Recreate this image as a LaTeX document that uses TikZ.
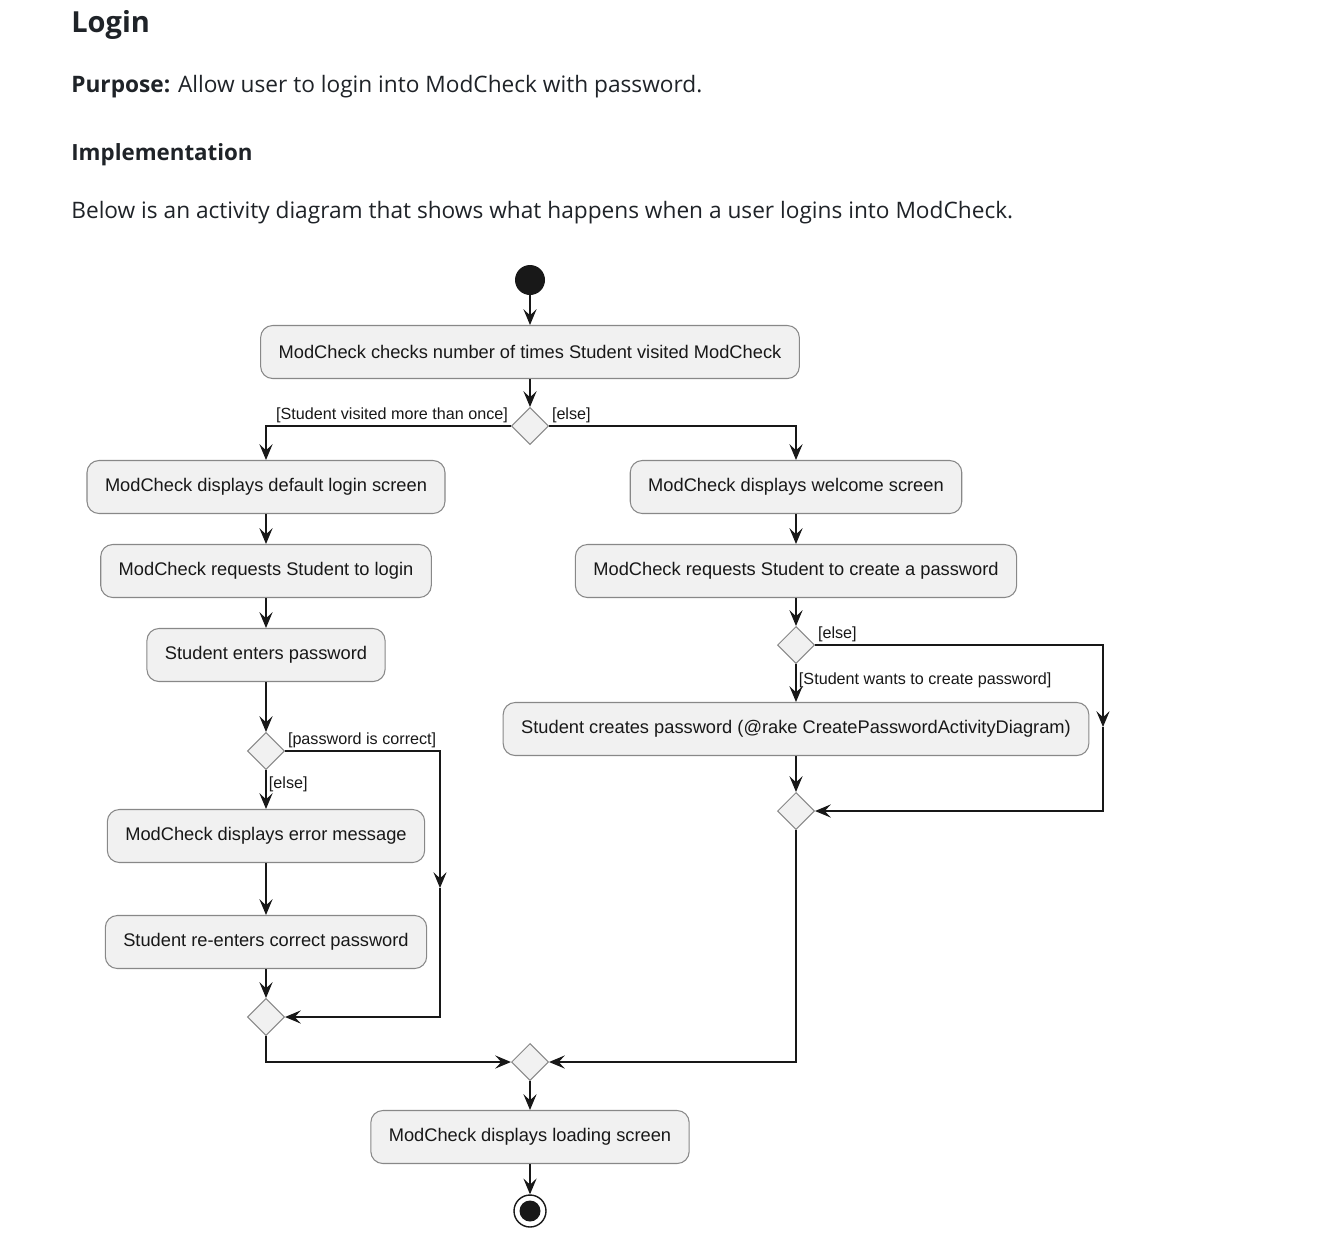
\documentclass[tikz,border=0pt]{standalone}
\usepackage{fontspec}
\setmainfont{Open Sans}
\newfontfamily\umlfont{Liberation Sans}
\usepackage{xcolor}
\usepackage{tikz}
\usetikzlibrary{arrows.meta,shapes.geometric}

\definecolor{inkdark}{HTML}{1F2328}
\definecolor{umlline}{HTML}{181818}
\definecolor{umlfill}{HTML}{F1F1F1}
\definecolor{umlborder}{HTML}{888888}

\tikzset{
    activity/.style={draw=umlborder, fill=umlfill, rounded corners=0.24cm, line width=0.6pt,
        minimum height=1.06cm, inner xsep=0.36cm, font=\umlfont\fontsize{10.4}{12}\selectfont, text=umlline},
    branch/.style={diamond, draw=umlborder, fill=umlfill, line width=0.6pt, aspect=1,
        minimum width=0.74cm, minimum height=0.74cm, inner sep=0pt},
    guard/.style={inner sep=1.5pt, font=\umlfont\fontsize{9.2}{10}\selectfont, text=umlline},
    flow/.style={umlline, line width=0.65pt, -{Stealth[length=9pt,width=7.5pt,inset=3.5pt]}},
    doctext/.style={anchor=base west, inner sep=0pt, text=inkdark}
}

\begin{document}
\begin{tikzpicture}[x=0.02cm, y=-0.02cm]
        % Page area
        \useasboundingbox (0,0) rectangle (1338,1258);
        \fill[white] (0,0) rectangle (1338,1258);

        % Page text
        \node[doctext, font=\fontsize{16.5}{19}\selectfont\bfseries] (title) at (71,32) {Login};
        \node[doctext, font=\fontsize{12.9}{15}\selectfont] (purpose) at (71,92) {\textbf{Purpose:} Allow user to login into ModCheck with password.};
        \node[doctext, font=\fontsize{12.7}{15}\selectfont\bfseries] (impl) at (71,160) {Implementation};
        \node[doctext, font=\fontsize{12.9}{15}\selectfont] (below) at (71,218) {Below is an activity diagram that shows what happens when a user logins into ModCheck.};

        % Start and first check
        \node[circle, fill=umlline, minimum size=0.6cm, inner sep=0pt] (start) at (530,280) {};
        \node[activity] (check) at (530,352) {ModCheck checks number of times Student visited ModCheck};
        \node[branch] (visit) at (530,426) {};
        \node[guard, anchor=south east] at (visit.west) {[Student visited more than once]};
        \node[guard, anchor=south west] at (visit.east) {[else]};

        % Left branch
        \node[activity] (default) at (266,487) {ModCheck displays default login screen};
        \node[activity] (reqlogin) at (266,571) {ModCheck requests Student to login};
        \node[activity] (enter) at (266,655) {Student enters password};
        \node[branch] (correct) at (266,751) {};
        \node[guard, anchor=south west] at (correct.east) {[password is correct]};
        \node[guard, anchor=north west] at ([yshift=-2pt]correct.south) {[else]};
        \node[activity] (error) at (266,836) {ModCheck displays error message};
        \node[activity] (reenter) at (266,942) {Student re-enters correct password};
        \node[branch] (leftmerge) at (266,1017) {};
        \coordinate (pc) at (440,888);

        % Right branch
        \node[activity] (welcome) at (796,487) {ModCheck displays welcome screen};
        \node[activity] (reqcreate) at (796,571) {ModCheck requests Student to create a password};
        \node[branch] (wants) at (796,645) {};
        \node[guard, anchor=south west] at (wants.east) {[else]};
        \node[guard, anchor=north west] at ([yshift=-3pt]wants.south) {[Student wants to create password]};
        \node[activity] (creates) at (796,729) {Student creates password (@rake CreatePasswordActivityDiagram)};
        \node[branch] (rightmerge) at (796,811) {};
        \coordinate (ec) at (1103,727);

        % Final part
        \node[branch] (merge) at (530,1062) {};
        \node[activity] (loading) at (530,1137) {ModCheck displays loading screen};
        \node[circle, draw=umlline, fill=white, line width=0.8pt, minimum size=0.64cm, inner sep=0pt] (stop) at (530,1211) {};
        \fill[umlline] (stop.center) circle (0.21cm);

        % Connectors
        \draw[flow] (start) -- (check);
        \draw[flow] (check) -- (visit);
        \draw[flow] (visit.west) -| (default.north);
        \draw[flow] (visit.east) -| (welcome.north);
        \draw[flow] (default) -- (reqlogin);
        \draw[flow] (reqlogin) -- (enter);
        \draw[flow] (enter) -- (correct);
        \draw[flow] (correct) -- (error);
        \draw[flow] (error) -- (reenter);
        \draw[flow] (reenter) -- (leftmerge);
        \draw[flow] (correct.east) -| (pc);
        \draw[flow] (pc) |- (leftmerge.east);
        \draw[flow] (leftmerge.south) |- (merge.west);
        \draw[flow] (welcome) -- (reqcreate);
        \draw[flow] (reqcreate) -- (wants);
        \draw[flow] (wants) -- (creates);
        \draw[flow] (creates) -- (rightmerge);
        \draw[flow] (wants.east) -| (ec);
        \draw[flow] (ec) |- (rightmerge.east);
        \draw[flow] (rightmerge.south) |- (merge.east);
        \draw[flow] (merge) -- (loading);
        \draw[flow] (loading) -- (stop);

    \end{tikzpicture}
\end{document}
